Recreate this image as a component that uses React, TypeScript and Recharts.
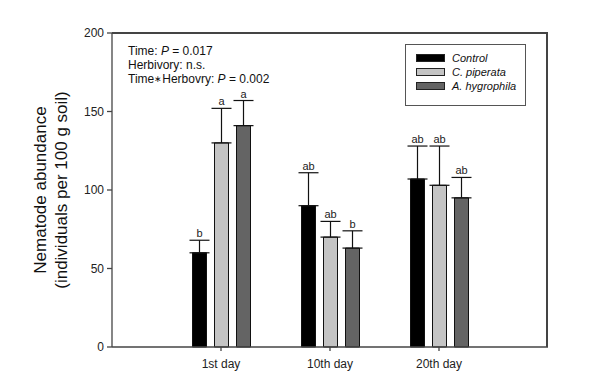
import { Bar, BarChart, ErrorBar, LabelList, XAxis, YAxis } from "recharts";

const days = ["1st day", "10th day", "20th day"];

const control = [60, 90, 107];
const controlSe = [8, 21, 21];
const controlLetters = ["b", "ab", "ab"];

const piperata = [130, 70, 103];
const piperataSe = [22, 10, 25];
const piperataLetters = ["a", "ab", "ab"];

const hygrophila = [141, 63, 95];
const hygrophilaSe = [16, 11, 13];
const hygrophilaLetters = ["a", "b", "ab"];

const yTicks = [0, 50, 100, 150, 200];

const series = [
  { key: "control", name: "Control", fill: "#000000", se: controlSe, letters: controlLetters },
  { key: "piperata", name: "C. piperata", fill: "#c4c4c4", se: piperataSe, letters: piperataLetters },
  { key: "hygrophila", name: "A. hygrophila", fill: "#646464", se: hygrophilaSe, letters: hygrophilaLetters },
];

const data = days.map((day, i) => ({
  day,
  control: control[i],
  controlErr: [0, controlSe[i]],
  piperata: piperata[i],
  piperataErr: [0, piperataSe[i]],
  hygrophila: hygrophila[i],
  hygrophilaErr: [0, hygrophilaSe[i]],
}));

const font = "'Liberation Sans', Arial, sans-serif";
const axisColor = "#444";

// plot box, matches the chart margins below
const plot = { left: 112, top: 33, right: 548, bottom: 347 };

// letter sits just above the error cap
function letterLabel(se: number[], letters: string[]) {
  return (props: any) => {
    const { x, y, width, height, value, index } = props;
    if (!value) return null;
    const perUnit = height / value;
    const top = y - se[index] * perUnit;
    return (
      <text
        x={x + width / 2}
        y={top - 3}
        textAnchor="middle"
        fontSize={11}
        fontFamily={font}
        fill="#222"
      >
        {letters[index]}
      </text>
    );
  };
}

export default function App() {
  return (
    <div style={{ position: "absolute", left: 0, top: 0, width: 600, height: 379, background: "#fff" }}>
      <BarChart
        width={600}
        height={379}
        data={data}
        margin={{ top: plot.top, right: 600 - plot.right, bottom: 0, left: 0 }}
        barSize={14}
        barGap={8}
      >
        <XAxis
          dataKey="day"
          padding={{ left: 54.5, right: 54.5 }}
          height={379 - plot.bottom}
          tickSize={4}
          tickMargin={8}
          stroke={axisColor}
          strokeWidth={1.3}
          tick={{ fill: "#222", fontSize: 12, fontFamily: font }}
        />
        <YAxis
          domain={[0, 200]}
          ticks={yTicks}
          width={plot.left}
          tickSize={5}
          tickMargin={3}
          stroke={axisColor}
          strokeWidth={1.3}
          tick={{ fill: "#222", fontSize: 12, fontFamily: font }}
        />
        {series.map((s) => (
          <Bar
            key={s.key}
            dataKey={s.key}
            name={s.name}
            fill={s.fill}
            stroke="#111"
            strokeWidth={1}
            isAnimationActive={false}
          >
            <ErrorBar dataKey={s.key + "Err"} width={10} stroke="#111" strokeWidth={1.2} direction="y" />
            <LabelList dataKey={s.key} content={letterLabel(s.se, s.letters)} />
          </Bar>
        ))}
      </BarChart>

      {/* top and right frame lines */}
      <div
        style={{
          position: "absolute",
          zIndex: 5,
          left: plot.left,
          top: plot.top - 1,
          width: plot.right - plot.left,
          height: plot.bottom - plot.top + 1,
          borderTop: "2px solid #444444",
          borderRight: "2px solid #444444",
          boxSizing: "border-box",
          pointerEvents: "none",
        }}
      />

      <div
        style={{
          position: "absolute",
          left: 128,
          top: 44,
          fontFamily: font,
          fontSize: 12,
          lineHeight: "14px",
          color: "#111",
        }}
      >
        <div>
          Time: <i>P</i> = 0.017
        </div>
        <div>Herbivory: n.s.</div>
        <div>
          Time<span style={{ fontSize: 9, verticalAlign: "1px" }}>∗</span>Herbovry: <i>P</i> = 0.002
        </div>
      </div>

      <div
        style={{
          position: "absolute",
          left: 405,
          top: 44,
          width: 121,
          height: 62,
          border: "1px solid #555",
          fontFamily: font,
          fontSize: 11,
          fontStyle: "italic",
          color: "#111",
          boxSizing: "border-box",
          paddingTop: 6,
        }}
      >
        {series.map((s) => (
          <div key={s.key} style={{ display: "flex", alignItems: "center", height: 14 }}>
            <span
              style={{
                display: "inline-block",
                width: 27,
                height: 6,
                background: s.fill,
                border: "1px solid #222",
                marginLeft: 10,
                marginRight: 7,
              }}
            />
            {s.name}
          </div>
        ))}
      </div>

      <div
        style={{
          position: "absolute",
          left: 51,
          top: 190,
          transform: "translate(-50%, -50%) rotate(-90deg)",
          fontFamily: font,
          fontSize: 17,
          lineHeight: "21px",
          textAlign: "center",
          whiteSpace: "nowrap",
          color: "#111",
        }}
      >
        <div>Nematode abundance</div>
        <div>(individuals per 100 g soil)</div>
      </div>
    </div>
  );
}
